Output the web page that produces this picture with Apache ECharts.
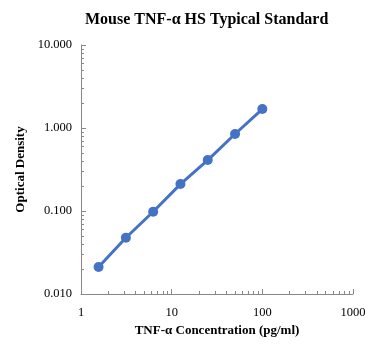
<!DOCTYPE html>
<html><head><meta charset="utf-8">
<script src="https://cdn.jsdelivr.net/npm/echarts@6/dist/echarts.min.js"></script>
<style>html,body{margin:0;padding:0;background:#fff}#c{width:372px;height:356px}</style>
</head><body><div id="c"></div>
<script>
const concentrations = [1.5625, 3.125, 6.25, 12.5, 25, 50, 100];
const opticalDensity = [0.0211, 0.0476, 0.098, 0.211, 0.411, 0.847, 1.69];
const xMajorTicks = [1, 10, 100, 1000];
const xMinorTicks = [2,3,4,5,6,7,8,9,20,30,40,50,60,70,80,90,200,300,400,500,600,700,800,900];
const yMajorTicks = [0.01, 0.1, 1, 10];
const yMinorTicks = [0.02,0.03,0.04,0.05,0.06,0.07,0.08,0.09,0.2,0.3,0.4,0.5,0.6,0.7,0.8,0.9,2,3,4,5,6,7,8,9];
const titleText = 'Mouse TNF-\u03b1 HS Typical Standard';
const xName = 'TNF-\u03b1 Concentration (pg/ml)';
const yName = 'Optical Density';

const font = 'Liberation Serif';
const axisColor = '#888888';
const chart = echarts.init(document.getElementById('c'));
const baseX = {type:'log', logBase:10, min:1, max:1000, gridIndex:0, position:'bottom'};
const baseY = {type:'log', logBase:10, min:0.01, max:10, gridIndex:0, position:'left'};
chart.setOption({
  animation:false,
  title:{text:titleText, left:80, top:7,
    textStyle:{fontFamily:font, fontSize:16, fontWeight:'bold', color:'#000'}},
  grid:{left:81, right:19, top:45, bottom:62},
  xAxis:[
    Object.assign({}, baseX, {
      name:xName, nameLocation:'middle', nameGap:29,
      nameTextStyle:{fontFamily:font, fontSize:13, fontWeight:'bold', color:'#000'},
      axisLine:{lineStyle:{color:axisColor, width:1}},
      axisTick:{show:true, inside:true, length:5, customValues:xMajorTicks, lineStyle:{color:axisColor}},
      axisLabel:{customValues:xMajorTicks, fontFamily:font, fontSize:12.5, color:'#000', margin:12, formatter:v=>String(v)},
      splitLine:{show:false}
    }),
    Object.assign({}, baseX, {
      axisLine:{show:false},
      axisTick:{show:true, inside:true, length:3, customValues:xMinorTicks, lineStyle:{color:axisColor}},
      axisLabel:{show:false}, splitLine:{show:false}
    })
  ],
  yAxis:[
    Object.assign({}, baseY, {
      name:yName, nameLocation:'middle', nameGap:47,
      nameTextStyle:{fontFamily:font, fontSize:13, fontWeight:'bold', color:'#000'},
      axisLine:{show:true, lineStyle:{color:axisColor, width:1}},
      axisTick:{show:true, inside:true, length:5, customValues:yMajorTicks, lineStyle:{color:axisColor}},
      axisLabel:{customValues:yMajorTicks, fontFamily:font, fontSize:12.5, color:'#000', margin:9, formatter:v=>v.toFixed(3)},
      splitLine:{show:false}
    }),
    Object.assign({}, baseY, {
      axisLine:{show:false},
      axisTick:{show:true, inside:true, length:3, customValues:yMinorTicks, lineStyle:{color:axisColor}},
      axisLabel:{show:false}, splitLine:{show:false}
    })
  ],
  series:[{
    type:'line', xAxisIndex:0, yAxisIndex:0,
    data:concentrations.map((c,i)=>[c, opticalDensity[i]]),
    symbol:'circle', symbolSize:10,
    lineStyle:{color:'#4472c4', width:3},
    itemStyle:{color:'#4472c4'}
  }]
});
</script></body></html>
